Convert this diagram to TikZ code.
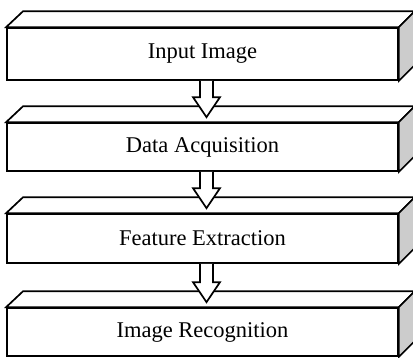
\documentclass[tikz,border=0pt]{standalone}
\usepackage{fontspec}
\setmainfont{Liberation Serif}
\usetikzlibrary{calc}
\begin{document}
\begin{tikzpicture}[x=1pt,y=-1pt, line width=1.7pt, line join=miter,
  face/.style={draw, fill=white, minimum width=391pt, inner sep=0pt,
    font=\fontsize{22.5}{25}\selectfont},
  topface/.style={draw, fill=white},
  sideface/.style={draw, fill=gray!40},
  blockarrow/.style={draw, fill=white}]
\useasboundingbox (0,0) rectangle (413,357);
\newcommand\slab[1]{%
  \draw[topface] (#1.north west) -- ++(17,-16) -- ($(#1.north east)+(16,-16)$) -- (#1.north east) -- cycle;
  \draw[sideface] (#1.north east) -- ++(16,-16) -- ($(#1.south east)+(16,-16)$) -- (#1.south east) -- cycle;}
\newcommand\joinarrow[2]{%
  \draw[blockarrow] let \p1=(#1.south), \p2=(#2.north) in
    (\x1-2.5pt,\y1) -- (\x1-2.5pt,\y2+25pt) -- (\x1-9.5pt,\y2+25pt) -- (\x1+4pt,\y2+5pt)
    -- (\x1+17.5pt,\y2+25pt) -- (\x1+10.5pt,\y2+25pt) -- (\x1+10.5pt,\y1);}
\node[face, minimum height=52pt] (b1) at (202.5,54) {Input Image};
\node[face, minimum height=48pt] (b2) at (202.5,147) {Data Acquisition};
\node[face, minimum height=49pt] (b3) at (202.5,238.5) {Feature Extraction};
\node[face, minimum height=48pt] (b4) at (202.5,332) {Image Recognition};
\slab{b1}\slab{b2}\slab{b3}\slab{b4}
\joinarrow{b1}{b2}
\joinarrow{b2}{b3}
\joinarrow{b3}{b4}
\end{tikzpicture}
\end{document}
